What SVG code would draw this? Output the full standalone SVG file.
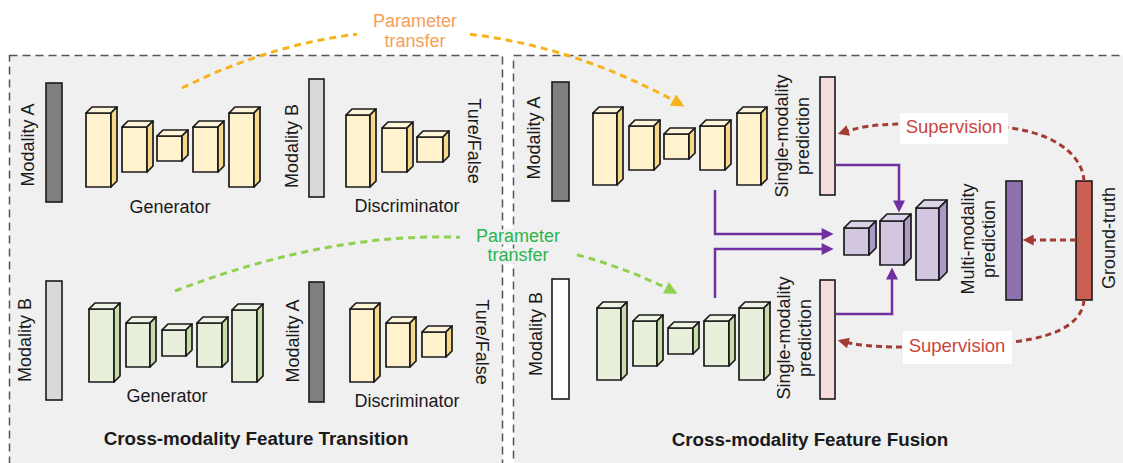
<svg xmlns="http://www.w3.org/2000/svg" width="1123" height="463" viewBox="0 0 1123 463">
<style>
.t{font-family:"Liberation Sans",Arial,sans-serif;font-size:18px;fill:#1a1a1a}
.b{font-weight:bold;font-size:18.8px}
.panel{fill:#f0f0f0;stroke:#555;stroke-width:1.5;stroke-dasharray:8 5}
.bar{stroke:#1a1a1a;stroke-width:1.6}
.blk rect,.blk polygon{stroke:#1a1a1a;stroke-width:1.7;stroke-linejoin:round}
.y .f{fill:#fff2cc}.y .s{fill:#f6d88a}.y .tp{fill:#fff5d8}
.g .f{fill:#e8f0dc}.g .s{fill:#c8dcaa}.g .tp{fill:#eef5e4}
.p .f{fill:#d2c6e0}.p .s{fill:#ad99c6}.p .tp{fill:#ddd3e8}
.pl{fill:none;stroke:#7030a0;stroke-width:2.5}
.dr{fill:none;stroke:#a33b32;stroke-width:3;stroke-dasharray:6 4}
.sup{font-family:"Liberation Sans",Arial,sans-serif;font-size:18.5px;fill:#c9463d}
</style>
<defs>
<marker id="mo" viewBox="0 0 10 10" refX="7" refY="5" markerWidth="14" markerHeight="13" markerUnits="userSpaceOnUse" orient="auto"><path d="M0,0 L10,5 L0,10 z" fill="#f6b31b"/></marker>
<marker id="mg" viewBox="0 0 10 10" refX="7" refY="5" markerWidth="14" markerHeight="13" markerUnits="userSpaceOnUse" orient="auto"><path d="M0,0 L10,5 L0,10 z" fill="#8fd14f"/></marker>
<marker id="mr" viewBox="0 0 10 10" refX="7" refY="5" markerWidth="12" markerHeight="11" markerUnits="userSpaceOnUse" orient="auto"><path d="M0,0 L10,5 L0,10 z" fill="#a33b32"/></marker>
<marker id="mp" viewBox="0 0 10 10" refX="7" refY="5" markerWidth="13" markerHeight="12" markerUnits="userSpaceOnUse" orient="auto"><path d="M0,0 L10,5 L0,10 z" fill="#7030a0"/></marker>
</defs>
<rect width="1123" height="463" fill="#fff"/>
<g id="panel-transition"><rect class="panel" x="9.5" y="55.5" width="493" height="420"/>
<text class="t b" x="256" y="445" text-anchor="middle">Cross-modality Feature Transition</text></g>
<g id="panel-fusion"><rect class="panel" x="513.5" y="55.5" width="620" height="420"/>
<text class="t b" x="810" y="446" text-anchor="middle">Cross-modality Feature Fusion</text></g>

<g id="lt-modA"><rect class="bar" x="46" y="83" width="16" height="119" fill="#7f7f7f"/><text class="t" transform="translate(34,145) rotate(-90)" text-anchor="middle">Modality A</text></g>
<g id="lt-generator">
<g class="blk y"><rect class="f" x="86" y="113" width="25" height="74"/><polygon class="tp" points="86,113 92,107 117,107 111,113"/><polygon class="s" points="111,113 117,107 117,181 111,187"/></g>
<g class="blk y"><rect class="f" x="122" y="127" width="25" height="45"/><polygon class="tp" points="122,127 128,121 153,121 147,127"/><polygon class="s" points="147,127 153,121 153,166 147,172"/></g>
<g class="blk y"><rect class="f" x="157" y="136" width="25" height="25"/><polygon class="tp" points="157,136 163,130 188,130 182,136"/><polygon class="s" points="182,136 188,130 188,155 182,161"/></g>
<g class="blk y"><rect class="f" x="193" y="127" width="25" height="45"/><polygon class="tp" points="193,127 199,121 224,121 218,127"/><polygon class="s" points="218,127 224,121 224,166 218,172"/></g>
<g class="blk y"><rect class="f" x="229" y="113" width="25" height="74"/><polygon class="tp" points="229,113 235,107 260,107 254,113"/><polygon class="s" points="254,113 260,107 260,181 254,187"/></g>
<text class="t" x="170" y="213" text-anchor="middle">Generator</text></g>
<g id="lt-modB"><rect class="bar" x="309" y="79" width="15" height="118" fill="#d9d9d9"/><text class="t" transform="translate(298,146) rotate(-90)" text-anchor="middle">Modality B</text></g>
<g id="lt-discriminator">
<g class="blk y"><rect class="f" x="346" y="115" width="24" height="72"/><polygon class="tp" points="346,115 352,109 376,109 370,115"/><polygon class="s" points="370,115 376,109 376,181 370,187"/></g>
<g class="blk y"><rect class="f" x="382" y="128" width="25" height="44"/><polygon class="tp" points="382,128 388,122 413,122 407,128"/><polygon class="s" points="407,128 413,122 413,166 407,172"/></g>
<g class="blk y"><rect class="f" x="417" y="137" width="26" height="25"/><polygon class="tp" points="417,137 423,131 449,131 443,137"/><polygon class="s" points="443,137 449,131 449,156 443,162"/></g>
<text class="t" x="407" y="212" text-anchor="middle">Discriminator</text></g>
<g id="lt-tf"><text class="t" transform="translate(468,141) rotate(90)" text-anchor="middle">Ture/False</text></g>

<g id="lb-modB"><rect class="bar" x="46" y="281" width="16" height="119" fill="#d9d9d9"/><text class="t" transform="translate(31,340) rotate(-90)" text-anchor="middle">Modality B</text></g>
<g id="lb-generator">
<g class="blk g"><rect class="f" x="89" y="309" width="25" height="73"/><polygon class="tp" points="89,309 95,303 120,303 114,309"/><polygon class="s" points="114,309 120,303 120,376 114,382"/></g>
<g class="blk g"><rect class="f" x="126" y="323" width="24" height="44"/><polygon class="tp" points="126,323 132,317 156,317 150,323"/><polygon class="s" points="150,323 156,317 156,361 150,367"/></g>
<g class="blk g"><rect class="f" x="162" y="330" width="24" height="26"/><polygon class="tp" points="162,330 168,324 192,324 186,330"/><polygon class="s" points="186,330 192,324 192,350 186,356"/></g>
<g class="blk g"><rect class="f" x="197" y="323" width="25" height="44"/><polygon class="tp" points="197,323 203,317 228,317 222,323"/><polygon class="s" points="222,323 228,317 228,361 222,367"/></g>
<g class="blk g"><rect class="f" x="232" y="310" width="25" height="72"/><polygon class="tp" points="232,310 238,304 263,304 257,310"/><polygon class="s" points="257,310 263,304 263,376 257,382"/></g>
<text class="t" x="167" y="402" text-anchor="middle">Generator</text></g>
<g id="lb-modA"><rect class="bar" x="309" y="282" width="15" height="120" fill="#7f7f7f"/><text class="t" transform="translate(299,341) rotate(-90)" text-anchor="middle">Modality A</text></g>
<g id="lb-discriminator">
<g class="blk y"><rect class="f" x="350" y="309" width="24" height="73"/><polygon class="tp" points="350,309 356,303 380,303 374,309"/><polygon class="s" points="374,309 380,303 380,376 374,382"/></g>
<g class="blk y"><rect class="f" x="386" y="323" width="24" height="44"/><polygon class="tp" points="386,323 392,317 416,317 410,323"/><polygon class="s" points="410,323 416,317 416,361 410,367"/></g>
<g class="blk y"><rect class="f" x="422" y="332" width="24" height="25"/><polygon class="tp" points="422,332 428,326 452,326 446,332"/><polygon class="s" points="446,332 452,326 452,351 446,357"/></g>
<text class="t" x="407" y="407" text-anchor="middle">Discriminator</text></g>
<g id="lb-tf"><text class="t" transform="translate(476,342) rotate(90)" text-anchor="middle">Ture/False</text></g>

<g id="rt-modA"><rect class="bar" x="552" y="82" width="17" height="119" fill="#7f7f7f"/><text class="t" transform="translate(540,138) rotate(-90)" text-anchor="middle">Modality A</text></g>
<g id="rt-net">
<g class="blk y"><rect class="f" x="593" y="113" width="24" height="72"/><polygon class="tp" points="593,113 599,107 623,107 617,113"/><polygon class="s" points="617,113 623,107 623,179 617,185"/></g>
<g class="blk y"><rect class="f" x="629" y="126" width="25" height="44"/><polygon class="tp" points="629,126 635,120 660,120 654,126"/><polygon class="s" points="654,126 660,120 660,164 654,170"/></g>
<g class="blk y"><rect class="f" x="664" y="134" width="25" height="25"/><polygon class="tp" points="664,134 670,128 695,128 689,134"/><polygon class="s" points="689,134 695,128 695,153 689,159"/></g>
<g class="blk y"><rect class="f" x="700" y="126" width="25" height="44"/><polygon class="tp" points="700,126 706,120 731,120 725,126"/><polygon class="s" points="725,126 731,120 731,164 725,170"/></g>
<g class="blk y"><rect class="f" x="737" y="113" width="24" height="72"/><polygon class="tp" points="737,113 743,107 767,107 761,113"/><polygon class="s" points="761,113 767,107 767,179 761,185"/></g>
</g>
<g id="rt-pred"><rect class="bar" x="820" y="77" width="15" height="118" fill="#f5dcdc"/>
<text class="t" transform="translate(788,136) rotate(-90)" text-anchor="middle">Single-modality</text>
<text class="t" transform="translate(809,136) rotate(-90)" text-anchor="middle">prediction</text></g>

<g id="rb-modB"><rect class="bar" x="552" y="279" width="17" height="120" fill="#ffffff"/><text class="t" transform="translate(542,334) rotate(-90)" text-anchor="middle">Modality B</text></g>
<g id="rb-net">
<g class="blk g"><rect class="f" x="597" y="308" width="24" height="72"/><polygon class="tp" points="597,308 603,302 627,302 621,308"/><polygon class="s" points="621,308 627,302 627,374 621,380"/></g>
<g class="blk g"><rect class="f" x="633" y="321" width="24" height="45"/><polygon class="tp" points="633,321 639,315 663,315 657,321"/><polygon class="s" points="657,321 663,315 663,360 657,366"/></g>
<g class="blk g"><rect class="f" x="668" y="328" width="25" height="26"/><polygon class="tp" points="668,328 674,322 699,322 693,328"/><polygon class="s" points="693,328 699,322 699,348 693,354"/></g>
<g class="blk g"><rect class="f" x="704" y="321" width="25" height="45"/><polygon class="tp" points="704,321 710,315 735,315 729,321"/><polygon class="s" points="729,321 735,315 735,360 729,366"/></g>
<g class="blk g"><rect class="f" x="739" y="308" width="25" height="72"/><polygon class="tp" points="739,308 745,302 770,302 764,308"/><polygon class="s" points="764,308 770,302 770,374 764,380"/></g>
</g>
<g id="rb-pred"><rect class="bar" x="820" y="280" width="15" height="119" fill="#f5dcdc"/>
<text class="t" transform="translate(790,338) rotate(-90)" text-anchor="middle">Single-modality</text>
<text class="t" transform="translate(811,338) rotate(-90)" text-anchor="middle">prediction</text></g>

<g id="fusion-net">
<g class="blk p"><rect class="f" x="844" y="228" width="25" height="27"/><polygon class="tp" points="844,228 851,221 876,221 869,228"/><polygon class="s" points="869,228 876,221 876,248 869,255"/></g>
<g class="blk p"><rect class="f" x="880" y="221" width="24" height="44"/><polygon class="tp" points="880,221 887,214 911,214 904,221"/><polygon class="s" points="904,221 911,214 911,258 904,265"/></g>
<g class="blk p"><rect class="f" x="916" y="208" width="23" height="72"/><polygon class="tp" points="916,208 924,200 947,200 939,208"/><polygon class="s" points="939,208 947,200 947,272 939,280"/></g>
</g>
<g id="multi-pred"><rect class="bar" x="1006" y="181" width="16" height="119" fill="#8e72ae"/>
<text class="t" transform="translate(974,239) rotate(-90)" text-anchor="middle">Multi-modality</text>
<text class="t" transform="translate(995,239) rotate(-90)" text-anchor="middle">prediction</text></g>
<g id="ground-truth"><rect class="bar" x="1076" y="181" width="16" height="119" fill="#cc5f52"/>
<text class="t" transform="translate(1115,238) rotate(-90)" text-anchor="middle">Ground-truth</text></g>

<g id="connectors">
<path d="M182,88 Q269.3,44.7 357,34.2" fill="none" stroke="#f6b31b" stroke-width="3" stroke-dasharray="7 5"/>
<path d="M470,34.3 Q577.4,47.1 681,104.5" fill="none" stroke="#f6b31b" stroke-width="3" stroke-dasharray="7 5" marker-end="url(#mo)"/>
<path d="M175,291 Q326.9,232.6 460,237.3" fill="none" stroke="#8fd14f" stroke-width="3" stroke-dasharray="7 5"/>
<path d="M577,254.8 Q629.2,268.8 674,292" fill="none" stroke="#8fd14f" stroke-width="3" stroke-dasharray="7 5" marker-end="url(#mg)"/>
<path class="pl" d="M715,190 V234 H830" marker-end="url(#mp)"/>
<path class="pl" d="M715,298 V249 H830" marker-end="url(#mp)"/>
<path class="pl" d="M835,165 H899 V209" marker-end="url(#mp)"/>
<path class="pl" d="M835,314 H892 V271" marker-end="url(#mp)"/>
<path class="dr" d="M1084,181 C1082,150 1045,130 1000,127 L905,124 C872,124 856,128 841,133" marker-end="url(#mr)"/>
<path class="dr" d="M1084,300 C1082,328 1045,340 1000,343 L905,347 C872,347 856,345 841,341" marker-end="url(#mr)"/>
<path class="dr" d="M1076,240 H1026" marker-end="url(#mr)"/>
</g>

<g id="label-param-top">
<text class="t" x="415" y="27" text-anchor="middle" style="fill:#f5a05a">Parameter</text>
<text class="t" x="415" y="47" text-anchor="middle" style="fill:#f5a05a">transfer</text></g>
<g id="label-param-mid">
<text class="t" x="518" y="242" text-anchor="middle" style="fill:#2bb54a;stroke:#f0f0f0;stroke-width:5;paint-order:stroke">Parameter</text>
<text class="t" x="518" y="261" text-anchor="middle" style="fill:#2bb54a;stroke:#f0f0f0;stroke-width:5;paint-order:stroke">transfer</text></g>
<g id="label-sup-top"><rect x="900" y="113" width="108" height="31" fill="#fff"/><text class="sup" x="954" y="133" text-anchor="middle">Supervision</text></g>
<g id="label-sup-bot"><rect x="903" y="331" width="109" height="33" fill="#fff"/><text class="sup" x="957" y="352" text-anchor="middle">Supervision</text></g>
</svg>
